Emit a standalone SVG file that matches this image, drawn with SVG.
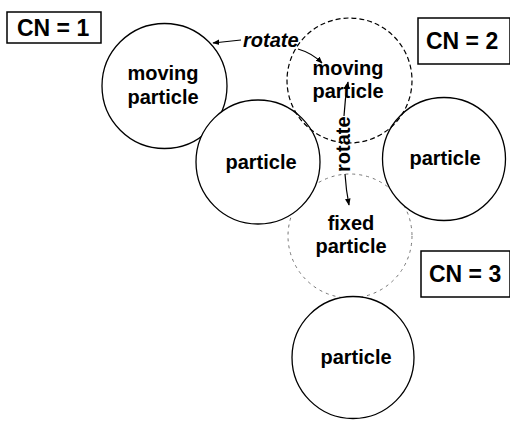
<svg xmlns="http://www.w3.org/2000/svg" width="510" height="421" viewBox="0 0 510 421">
  <defs>
    <marker id="ah" viewBox="0 0 10 10" refX="9" refY="5" markerWidth="7" markerHeight="7" orient="auto-start-reverse" markerUnits="userSpaceOnUse">
      <path d="M0,1 L10,5 L0,9 z" fill="#000"/>
    </marker>
    <style>
      .p { fill: #fff; stroke: #000; stroke-width: 1.3; }
      .pd { fill: none; stroke: #000; stroke-width: 1.2; stroke-dasharray: 5 3; }
      .pf { fill: none; stroke: #777; stroke-width: 1; stroke-dasharray: 3 4; }
      .lbl { font-family: "Liberation Sans", Arial, sans-serif; font-weight: bold; font-size: 20px; fill: #000; text-anchor: middle; }
      .cn { font-family: "Liberation Sans", Arial, sans-serif; font-weight: bold; font-size: 23px; fill: #000; }
      .box { fill: #fff; stroke: #000; stroke-width: 1.5; }
      .rot { font-family: "Liberation Sans", Arial, sans-serif; font-weight: bold; font-style: italic; font-size: 20px; fill: #000; }
      .rotv { font-family: "Liberation Sans", Arial, sans-serif; font-weight: bold; font-size: 20px; fill: #000; }
      .con { fill: none; stroke: #000; stroke-width: 1.2; marker-end: url(#ah); }
    </style>
  </defs>

  <g id="cn1">
    <rect class="box" x="7" y="12" width="94" height="31"/>
    <text class="cn" x="17" y="36">CN = 1</text>
  </g>
  <g id="cn2">
    <rect class="box" x="418" y="18" width="92" height="46"/>
    <text class="cn" x="426" y="49">CN = 2</text>
  </g>
  <g id="cn3">
    <rect class="box" x="421" y="251" width="89" height="46"/>
    <text class="cn" x="429" y="282">CN = 3</text>
  </g>

  <g id="fixed-particle">
    <circle class="pf" cx="350" cy="236" r="62"/>
    <text class="lbl" x="351" y="230">fixed</text>
    <text class="lbl" x="351" y="253">particle</text>
  </g>
  <g id="moving-particle-1">
    <circle class="p" cx="164.5" cy="86" r="62.5"/>
    <text class="lbl" x="163" y="80">moving</text>
    <text class="lbl" x="163" y="104">particle</text>
  </g>
  <g id="particle-left">
    <circle class="p" cx="258" cy="162" r="62"/>
    <text class="lbl" x="261" y="169">particle</text>
  </g>
  <g id="particle-right">
    <circle class="p" cx="444" cy="159" r="61.5"/>
    <text class="lbl" x="445" y="165">particle</text>
  </g>
  <g id="moving-particle-2">
    <circle class="pd" cx="349.5" cy="80.5" r="62.5"/>
    <text class="lbl" x="348" y="75">moving</text>
    <text class="lbl" x="348" y="98">particle</text>
  </g>
  <g id="particle-bottom">
    <circle class="p" cx="353" cy="357.5" r="61"/>
    <text class="lbl" x="356" y="364">particle</text>
  </g>

  <g id="connectors">
    <text class="rot" x="243" y="47">rotate</text>
    <path class="con" d="M241,40 L213,43"/>
    <path class="con" d="M298,49 Q312,53 322,63"/>
    <text class="rotv" transform="translate(350,172) rotate(-90)">rotate</text>
    <path class="con" d="M344,116 Q345,98 348,82"/>
    <path class="con" d="M345,174 Q346,190 349,205"/>
  </g>
</svg>
